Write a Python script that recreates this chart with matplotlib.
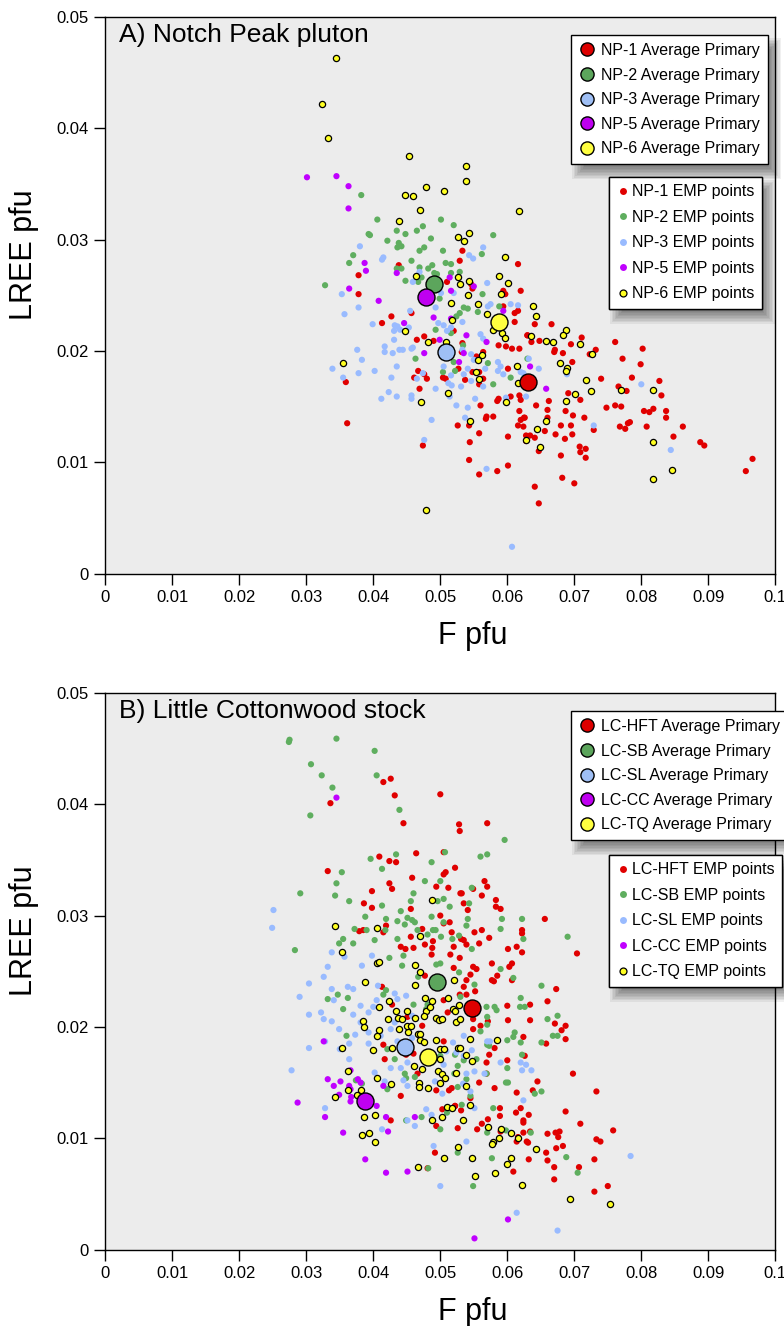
import numpy as np
import matplotlib
matplotlib.use("Agg")
import matplotlib.pyplot as plt
from matplotlib.lines import Line2D
from matplotlib.patches import Rectangle
from matplotlib.transforms import IdentityTransform

plt.rcParams['font.family'] = ['Liberation Sans', 'DejaVu Sans']

# ---------------- DATA (F pfu, LREE pfu) ----------------
# Panel A: Notch Peak pluton
np1_pts = [(0.0533,0.0290),(0.0529,0.0281),(0.0616,0.0278),(0.0438,0.0277),(0.0378,0.0268),(0.0510,0.0262),(0.0548,0.0256),(0.0546,0.0260),(0.0378,0.0251),(0.0594,0.0254),(0.0597,0.0251),(0.0620,0.0254),
 (0.0427,0.0231),(0.0413,0.0225),(0.0457,0.0234),(0.0465,0.0210),(0.0476,0.0213),(0.0490,0.0209),(0.0520,0.0218),(0.0533,0.0207),(0.0532,0.0199),(0.0564,0.0199),(0.0554,0.0195),(0.0587,0.0205),(0.0598,0.0204),(0.0607,0.0202),(0.0618,0.0202),(0.0630,0.0214),(0.0611,0.0234),(0.0616,0.0236),(0.0611,0.0226),(0.0594,0.0240),(0.0467,0.0182),(0.0461,0.0176),(0.0480,0.0175),(0.0476,0.0179),(0.0504,0.0176),(0.0508,0.0175),(0.0527,0.0184),(0.0537,0.0174),(0.0548,0.0181),(0.0558,0.0181),(0.0558,0.0170),(0.0564,0.0175),(0.0601,0.0184),(0.0469,0.0166),(0.0359,0.0172),(0.0361,0.0135),(0.0474,0.0115),(0.0526,0.0133),(0.0543,0.0133),(0.0544,0.0118),(0.0558,0.0126),(0.0543,0.0102),(0.0558,0.0089),(0.0585,0.0092),(0.0601,0.0097),(0.0601,0.0123),(0.0560,0.0151),(0.0569,0.0141),(0.0568,0.0139),(0.0579,0.0141),(0.0585,0.0155),(0.0587,0.0157),(0.0605,0.0159),(0.0618,0.0160),(0.0620,0.0156),(0.0618,0.0146),(0.0620,0.0138),(0.0625,0.0140),(0.0616,0.0133),(0.0624,0.0132),(0.0628,0.0124),(0.0628,0.0119),
 (0.0641,0.0224),(0.0666,0.0224),(0.0630,0.0214),(0.0636,0.0208),(0.0648,0.0209),(0.0670,0.0199),(0.0671,0.0201),(0.0683,0.0198),(0.0695,0.0206),(0.0711,0.0212),(0.0697,0.0190),(0.0723,0.0197),(0.0732,0.0201),(0.0761,0.0208),(0.0802,0.0202),(0.0772,0.0193),(0.0799,0.0188),(0.0740,0.0175),(0.0786,0.0176),(0.0766,0.0168),(0.0778,0.0164),(0.0827,0.0173),(0.0830,0.0160),(0.0691,0.0162),(0.0709,0.0156),(0.0662,0.0155),(0.0643,0.0151),(0.0660,0.0147),(0.0687,0.0146),(0.0698,0.0142),(0.0715,0.0140),(0.0748,0.0149),(0.0761,0.0151),(0.0770,0.0150),(0.0804,0.0146),(0.0812,0.0145),(0.0818,0.0148),(0.0837,0.0146),(0.0837,0.0140),(0.0780,0.0135),(0.0783,0.0136),(0.0768,0.0132),(0.0776,0.0130),(0.0808,0.0132),(0.0862,0.0132),(0.0848,0.0123),(0.0888,0.0118),(0.0894,0.0115),(0.0966,0.0103),(0.0956,0.0092),(0.0729,0.0129),(0.0680,0.0133),(0.0695,0.0133),(0.0656,0.0128),(0.0672,0.0125),(0.0686,0.0121),(0.0697,0.0125),(0.0641,0.0122),(0.0634,0.0124),(0.0647,0.0110),(0.0680,0.0106),(0.0708,0.0114),(0.0709,0.0109),(0.0717,0.0112),(0.0717,0.0104),(0.0682,0.0086),(0.0700,0.0081),(0.0641,0.0078),(0.0647,0.0063),(0.0626,0.0140),(0.0660,0.0140)]

np2_pts = [(0.0382,0.0340),(0.0406,0.0318),(0.0393,0.0305),(0.0395,0.0304),(0.0421,0.0299),(0.0435,0.0308),(0.0448,0.0305),(0.0438,0.0297),(0.0436,0.0293),(0.0442,0.0294),(0.0465,0.0308),(0.0474,0.0312),(0.0501,0.0318),(0.0520,0.0313),(0.0486,0.0301),(0.0476,0.0293),(0.0469,0.0290),(0.0504,0.0290),(0.0579,0.0304),(0.0562,0.0287),(0.0370,0.0286),(0.0364,0.0279),(0.0457,0.0281),(0.0508,0.0279),(0.0516,0.0278),(0.0488,0.0277),(0.0482,0.0274),(0.0469,0.0275),(0.0442,0.0274),(0.0435,0.0274),(0.0491,0.0270),(0.0495,0.0269),(0.0529,0.0271),(0.0516,0.0270),(0.0448,0.0263),(0.0467,0.0262),(0.0472,0.0266),(0.0328,0.0259),(0.0563,0.0251),(0.0499,0.0247),
 (0.0535,0.0239),(0.0541,0.0238),(0.0529,0.0234),(0.0524,0.0231),(0.0556,0.0235),(0.0588,0.0240),(0.0493,0.0219),(0.0516,0.0216),(0.0534,0.0205),(0.0463,0.0193),(0.0520,0.0190),(0.0571,0.0189),(0.0522,0.0182),(0.0504,0.0181),(0.0605,0.0176),(0.0579,0.0170),(0.0630,0.0193)]

np3_pts = [(0.0380,0.0294),(0.0415,0.0284),(0.0413,0.0282),(0.0469,0.0271),(0.0459,0.0262),(0.0564,0.0293),(0.0543,0.0286),(0.0549,0.0283),(0.0570,0.0261),(0.0353,0.0251),(0.0501,0.0252),(0.0520,0.0252),
 (0.0378,0.0239),(0.0357,0.0233),(0.0399,0.0224),(0.0432,0.0223),(0.0436,0.0222),(0.0431,0.0218),(0.0440,0.0219),(0.0453,0.0221),(0.0455,0.0236),(0.0493,0.0239),(0.0497,0.0225),(0.0505,0.0223),(0.0510,0.0218),(0.0516,0.0221),(0.0533,0.0226),(0.0560,0.0215),(0.0564,0.0211),(0.0571,0.0240),(0.0575,0.0242),(0.0605,0.0242),(0.0616,0.0241),(0.0431,0.0210),(0.0417,0.0204),(0.0417,0.0199),(0.0429,0.0198),(0.0439,0.0201),(0.0444,0.0201),(0.0457,0.0202),(0.0459,0.0203),(0.0376,0.0201),(0.0383,0.0192),(0.0339,0.0184),(0.0355,0.0176),(0.0378,0.0180),(0.0402,0.0182),(0.0427,0.0176),(0.0435,0.0186),(0.0465,0.0175),(0.0474,0.0180),(0.0493,0.0166),(0.0423,0.0163),(0.0412,0.0157),(0.0435,0.0159),(0.0457,0.0160),(0.0457,0.0157),(0.0487,0.0138),(0.0476,0.0120),(0.0512,0.0171),(0.0517,0.0169),(0.0531,0.0168),(0.0514,0.0159),(0.0524,0.0151),(0.0541,0.0149),(0.0537,0.0140),(0.0552,0.0157),(0.0546,0.0173),(0.0535,0.0179),(0.0541,0.0184),(0.0546,0.0197),(0.0564,0.0168),(0.0567,0.0184),(0.0586,0.0190),(0.0586,0.0182),(0.0594,0.0179),(0.0590,0.0186),(0.0598,0.0158),(0.0624,0.0180),(0.0628,0.0159),(0.0632,0.0193),(0.0569,0.0094),(0.0607,0.0024),(0.0518,0.0199),(0.0533,0.0201),(0.0505,0.0186),(0.0516,0.0178),(0.0550,0.0192),
 (0.0647,0.0184),(0.0620,0.0181),(0.0689,0.0179),(0.0800,0.0170),(0.0729,0.0133),(0.0844,0.0111)]

np5_pts = [(0.0301,0.0356),(0.0345,0.0357),(0.0363,0.0348),(0.0363,0.0328),(0.0387,0.0279),(0.0389,0.0272),(0.0435,0.0270),(0.0514,0.0266),(0.0516,0.0254),(0.0550,0.0258),(0.0364,0.0256),(0.0408,0.0245),(0.0446,0.0225),(0.0490,0.0230),(0.0499,0.0210),(0.0516,0.0229),(0.0539,0.0214),(0.0569,0.0208),(0.0476,0.0198),(0.0535,0.0198),(0.0528,0.0190),(0.0594,0.0236),(0.0634,0.0186),(0.0658,0.0166)]

np6_pts = [(0.0345,0.0463),(0.0323,0.0422),(0.0332,0.0391),(0.0453,0.0375),(0.0539,0.0366),(0.0539,0.0353),(0.0478,0.0347),(0.0448,0.0340),(0.0459,0.0339),(0.0506,0.0344),(0.0469,0.0327),(0.0618,0.0326),(0.0438,0.0317),(0.0543,0.0306),(0.0526,0.0302),(0.0535,0.0299),(0.0597,0.0284),(0.0463,0.0267),(0.0527,0.0266),(0.0588,0.0267),(0.0543,0.0263),(0.0601,0.0261),(0.0530,0.0260),(0.0590,0.0251),(0.0541,0.0250),
 (0.0516,0.0243),(0.0556,0.0242),(0.0518,0.0228),(0.0569,0.0233),(0.0448,0.0218),(0.0579,0.0219),(0.0592,0.0216),(0.0597,0.0212),(0.0482,0.0208),(0.0509,0.0208),(0.0562,0.0196),(0.0556,0.0192),(0.0554,0.0181),(0.0558,0.0175),(0.0615,0.0186),(0.0616,0.0171),(0.0355,0.0189),(0.0512,0.0162),(0.0471,0.0154),(0.0598,0.0154),(0.0545,0.0137),(0.0628,0.0120),(0.0478,0.0057),
 (0.0638,0.0240),(0.0643,0.0231),(0.0687,0.0219),(0.0683,0.0214),(0.0636,0.0213),(0.0658,0.0209),(0.0668,0.0208),(0.0708,0.0206),(0.0726,0.0197),(0.0678,0.0189),(0.0689,0.0185),(0.0687,0.0182),(0.0717,0.0174),(0.0725,0.0164),(0.0701,0.0161),(0.0687,0.0155),(0.0770,0.0165),(0.0818,0.0165),(0.0658,0.0137),(0.0645,0.0130),(0.0649,0.0114),(0.0818,0.0118),(0.0846,0.0093),(0.0818,0.0085)]

np_avg_f = [0.0631, 0.0491, 0.0509, 0.0479, 0.0588]
np_avg_lree = [0.0172, 0.0260, 0.0199, 0.0248, 0.0226]
np_names = ['NP-1', 'NP-2', 'NP-3', 'NP-5', 'NP-6']

# Panel B: Little Cottonwood stock
lc_hft_pts = [(0.0415,0.0420),(0.0426,0.0423),(0.0432,0.0408),(0.0500,0.0409),(0.0336,0.0401),(0.0445,0.0383),(0.0528,0.0382),(0.0529,0.0376),(0.0409,0.0353),(0.0424,0.0349),(0.0434,0.0348),(0.0464,0.0356),(0.0505,0.0357),(0.0522,0.0343),(0.0505,0.0337),(0.0508,0.0339),(0.0458,0.0334),(0.0332,0.0340),(0.0424,0.0329),(0.0428,0.0324),(0.0494,0.0326),(0.0512,0.0325),(0.0398,0.0322),(0.0530,0.0320),(0.0386,0.0311),(0.0398,0.0307),(0.0456,0.0306),(0.0500,0.0300),(0.0514,0.0294),(0.0505,0.0293),(0.0419,0.0291),(0.0415,0.0285),(0.0379,0.0286),(0.0385,0.0287),(0.0473,0.0288),(0.0456,0.0281),(0.0477,0.0274),(0.0489,0.0277),(0.0517,0.0285),(0.0520,0.0272),(0.0441,0.0272),(0.0448,0.0270),(0.0460,0.0271),(0.0488,0.0271),
 (0.0570,0.0383),(0.0566,0.0331),(0.0570,0.0326),(0.0549,0.0324),(0.0532,0.0320),(0.0562,0.0318),(0.0583,0.0314),(0.0583,0.0308),(0.0590,0.0306),(0.0535,0.0311),(0.0541,0.0305),(0.0656,0.0297),(0.0622,0.0287),(0.0622,0.0284),(0.0562,0.0287),(0.0551,0.0285),(0.0573,0.0280),(0.0531,0.0279),(0.0535,0.0278),(0.0539,0.0274),(0.0558,0.0275),(0.0614,0.0272),(0.0601,0.0270),(0.0704,0.0266),
 (0.0477,0.0246),(0.0520,0.0253),(0.0487,0.0265),(0.0515,0.0265),(0.0413,0.0236),(0.0428,0.0220),(0.0451,0.0209),(0.0473,0.0201),(0.0505,0.0224),(0.0511,0.0213),(0.0415,0.0184),(0.0417,0.0171),(0.0460,0.0176),(0.0449,0.0175),(0.0505,0.0187),(0.0466,0.0158),(0.0441,0.0138),(0.0494,0.0143),(0.0513,0.0143),(0.0517,0.0145),(0.0522,0.0129),(0.0503,0.0126),(0.0494,0.0111),(0.0492,0.0087),(0.0426,0.0116),(0.0481,0.0073),(0.0526,0.0109),
 (0.0622,0.0267),(0.0529,0.0262),(0.0577,0.0257),(0.0607,0.0257),(0.0603,0.0254),(0.0549,0.0254),(0.0554,0.0252),(0.0545,0.0247),(0.0585,0.0246),(0.0577,0.0242),(0.0580,0.0241),(0.0607,0.0242),(0.0539,0.0242),(0.0535,0.0236),(0.0552,0.0232),(0.0673,0.0234),(0.0529,0.0229),(0.0539,0.0229),(0.0660,0.0223),(0.0634,0.0220),(0.0600,0.0219),(0.0549,0.0207),(0.0571,0.0205),(0.0601,0.0206),(0.0634,0.0206),(0.0671,0.0203),(0.0687,0.0201),(0.0681,0.0197),(0.0687,0.0189),(0.0658,0.0185),(0.0624,0.0191),(0.0560,0.0201),(0.0549,0.0198),(0.0581,0.0181),(0.0573,0.0175),(0.0626,0.0174),(0.0600,0.0170),(0.0569,0.0168),(0.0698,0.0158),(0.0569,0.0158),(0.0558,0.0150),(0.0581,0.0145),(0.0645,0.0151),(0.0638,0.0143),(0.0614,0.0141),(0.0733,0.0142),(0.0545,0.0136),(0.0522,0.0129),(0.0531,0.0125),(0.0589,0.0127),(0.0589,0.0120),(0.0620,0.0127),(0.0613,0.0123),(0.0632,0.0121),(0.0624,0.0116),(0.0624,0.0114),(0.0571,0.0117),(0.0562,0.0113),(0.0687,0.0124),(0.0709,0.0113),(0.0555,0.0108),(0.0590,0.0106),(0.0634,0.0106),(0.0624,0.0105),(0.0660,0.0104),(0.0672,0.0105),(0.0678,0.0106),(0.0676,0.0101),(0.0616,0.0101),(0.0614,0.0097),(0.0629,0.0097),(0.0631,0.0096),(0.0683,0.0093),(0.0673,0.0091),(0.0658,0.0087),(0.0733,0.0099),(0.0739,0.0097),(0.0758,0.0107),(0.0632,0.0081),(0.0660,0.0080),(0.0730,0.0081),(0.0609,0.0070),(0.0670,0.0074),(0.0707,0.0074),(0.0670,0.0063),(0.0750,0.0057),(0.0730,0.0052)]

lc_sb_pts = [(0.0275,0.0458),(0.0274,0.0456),(0.0345,0.0459),(0.0402,0.0448),(0.0307,0.0436),(0.0323,0.0426),(0.0405,0.0426),(0.0339,0.0415),(0.0439,0.0395),(0.0306,0.0390),(0.0396,0.0351),(0.0434,0.0355),(0.0413,0.0342),(0.0487,0.0348),(0.0507,0.0357),(0.0353,0.0339),(0.0345,0.0329),(0.0291,0.0320),(0.0343,0.0318),(0.0364,0.0313),(0.0413,0.0309),(0.0477,0.0331),(0.0500,0.0331),(0.0460,0.0320),(0.0456,0.0313),(0.0505,0.0315),(0.0496,0.0313),(0.0514,0.0308),(0.0441,0.0304),(0.0388,0.0299),(0.0419,0.0297),(0.0436,0.0295),(0.0447,0.0292),(0.0451,0.0298),(0.0458,0.0296),(0.0462,0.0294),(0.0487,0.0299),(0.0505,0.0294),(0.0372,0.0288),(0.0390,0.0287),(0.0418,0.0287),(0.0466,0.0287),(0.0489,0.0287),(0.0493,0.0287),(0.0481,0.0283),(0.0501,0.0281),(0.0518,0.0279),(0.0528,0.0282),(0.0355,0.0279),(0.0349,0.0275),(0.0370,0.0275),(0.0402,0.0278),(0.0436,0.0279),(0.0283,0.0269),
 (0.0596,0.0368),(0.0560,0.0353),(0.0570,0.0355),(0.0547,0.0325),(0.0543,0.0311),(0.0541,0.0297),(0.0592,0.0297),(0.0622,0.0297),(0.0539,0.0291),(0.0590,0.0288),(0.0624,0.0279),(0.0690,0.0281),(0.0547,0.0270),
 (0.0424,0.0262),(0.0445,0.0264),(0.0443,0.0255),(0.0467,0.0245),(0.0494,0.0256),(0.0500,0.0257),(0.0528,0.0249),(0.0347,0.0229),(0.0332,0.0225),(0.0362,0.0226),(0.0415,0.0229),(0.0419,0.0233),(0.0355,0.0216),(0.0460,0.0220),(0.0479,0.0216),(0.0481,0.0220),(0.0530,0.0227),(0.0360,0.0192),(0.0421,0.0180),(0.0432,0.0171),(0.0447,0.0158),(0.0449,0.0154),(0.0462,0.0155),(0.0374,0.0152),(0.0383,0.0149),(0.0421,0.0144),(0.0526,0.0165),(0.0521,0.0158),(0.0526,0.0146),(0.0472,0.0119),(0.0449,0.0116),(0.0500,0.0108),(0.0510,0.0123),(0.0526,0.0087),(0.0482,0.0073),(0.0522,0.0175),(0.0500,0.0174),
 (0.0651,0.0237),(0.0590,0.0252),(0.0609,0.0244),(0.0551,0.0238),(0.0620,0.0226),(0.0619,0.0218),(0.0626,0.0218),(0.0581,0.0218),(0.0584,0.0215),(0.0569,0.0218),(0.0675,0.0210),(0.0660,0.0207),(0.0570,0.0209),(0.0570,0.0202),(0.0560,0.0196),(0.0611,0.0195),(0.0609,0.0191),(0.0600,0.0188),(0.0620,0.0186),(0.0651,0.0186),(0.0668,0.0192),(0.0675,0.0192),(0.0570,0.0184),(0.0573,0.0183),(0.0622,0.0175),(0.0554,0.0171),(0.0535,0.0170),(0.0600,0.0163),(0.0569,0.0158),(0.0539,0.0153),(0.0598,0.0150),(0.0601,0.0150),(0.0641,0.0140),(0.0651,0.0142),(0.0532,0.0130),(0.0579,0.0127),(0.0570,0.0105),(0.0635,0.0105),(0.0598,0.0107),(0.0577,0.0082),(0.0688,0.0083),(0.0705,0.0069),(0.0549,0.0057),(0.0545,0.0138)]

lc_sl_pts = [(0.0251,0.0305),(0.0249,0.0289),
 (0.0338,0.0267),(0.0357,0.0263),(0.0398,0.0264),(0.0332,0.0254),(0.0383,0.0255),(0.0326,0.0245),(0.0304,0.0239),(0.0290,0.0227),(0.0338,0.0234),(0.0341,0.0224),(0.0370,0.0234),(0.0362,0.0236),(0.0407,0.0237),(0.0432,0.0230),(0.0436,0.0225),(0.0449,0.0228),(0.0304,0.0211),(0.0322,0.0213),(0.0326,0.0207),(0.0338,0.0205),(0.0349,0.0198),(0.0370,0.0211),(0.0381,0.0219),(0.0393,0.0213),(0.0400,0.0218),(0.0405,0.0224),(0.0381,0.0204),(0.0393,0.0195),(0.0373,0.0193),(0.0364,0.0185),(0.0350,0.0180),(0.0328,0.0187),(0.0304,0.0181),(0.0393,0.0185),(0.0364,0.0171),(0.0278,0.0161),(0.0411,0.0192),(0.0426,0.0198),(0.0432,0.0204),(0.0458,0.0210),(0.0458,0.0190),(0.0436,0.0187),(0.0426,0.0163),(0.0441,0.0163),(0.0451,0.0168),(0.0402,0.0159),(0.0417,0.0151),(0.0445,0.0152),(0.0451,0.0147),(0.0328,0.0127),(0.0479,0.0126),(0.0451,0.0116),(0.0462,0.0111),(0.0413,0.0108),(0.0490,0.0093),(0.0500,0.0057),(0.0503,0.0140),(0.0492,0.0151),(0.0487,0.0121),(0.0505,0.0166),(0.0519,0.0186),(0.0509,0.0178),
 (0.0535,0.0192),(0.0570,0.0187),(0.0574,0.0187),(0.0547,0.0179),(0.0535,0.0174),(0.0524,0.0177),(0.0590,0.0168),(0.0620,0.0168),(0.0628,0.0166),(0.0622,0.0161),(0.0636,0.0161),(0.0551,0.0160),(0.0539,0.0158),(0.0566,0.0158),(0.0534,0.0149),(0.0545,0.0142),(0.0551,0.0127),(0.0624,0.0134),(0.0605,0.0105),(0.0539,0.0097),(0.0784,0.0084),(0.0614,0.0033),(0.0675,0.0017)]

lc_cc_pts = [(0.0345,0.0406),(0.0326,0.0187),(0.0366,0.0161),(0.0332,0.0153),(0.0351,0.0151),(0.0341,0.0147),(0.0364,0.0147),(0.0366,0.0144),(0.0349,0.0139),(0.0367,0.0137),(0.0366,0.0133),(0.0377,0.0153),(0.0381,0.0150),(0.0415,0.0147),(0.0405,0.0129),(0.0287,0.0132),(0.0328,0.0119),(0.0355,0.0105),(0.0419,0.0119),(0.0422,0.0106),(0.0462,0.0119),(0.0388,0.0081),(0.0419,0.0069),(0.0451,0.0070),(0.0601,0.0027),(0.0551,0.0010)]

lc_tq_pts = [(0.0487,0.0314),(0.0343,0.0291),(0.0406,0.0289),(0.0470,0.0282),
 (0.0353,0.0267),(0.0405,0.0257),(0.0409,0.0258),(0.0462,0.0256),(0.0470,0.0249),(0.0462,0.0238),(0.0388,0.0240),(0.0520,0.0242),(0.0424,0.0223),(0.0477,0.0226),(0.0488,0.0223),(0.0511,0.0226),(0.0528,0.0220),(0.0409,0.0218),(0.0434,0.0214),(0.0451,0.0214),(0.0479,0.0214),(0.0484,0.0218),(0.0519,0.0216),(0.0422,0.0207),(0.0437,0.0208),(0.0443,0.0207),(0.0462,0.0208),(0.0475,0.0210),(0.0494,0.0208),(0.0498,0.0206),(0.0502,0.0207),(0.0524,0.0204),(0.0385,0.0205),(0.0386,0.0200),(0.0439,0.0198),(0.0452,0.0195),(0.0451,0.0201),(0.0456,0.0201),(0.0409,0.0197),(0.0406,0.0192),(0.0466,0.0194),(0.0470,0.0194),(0.0470,0.0188),(0.0475,0.0186),(0.0494,0.0188),(0.0500,0.0180),(0.0505,0.0180),(0.0500,0.0171),(0.0428,0.0181),(0.0400,0.0179),(0.0353,0.0181),(0.0460,0.0165),(0.0473,0.0162),(0.0496,0.0160),(0.0503,0.0158),(0.0507,0.0154),(0.0524,0.0159),(0.0362,0.0160),(0.0405,0.0154),(0.0426,0.0149),(0.0468,0.0150),(0.0468,0.0146),(0.0482,0.0145),(0.0500,0.0150),(0.0362,0.0143),(0.0381,0.0143),(0.0376,0.0139),(0.0343,0.0137),(0.0403,0.0121),(0.0386,0.0119),(0.0487,0.0116),(0.0503,0.0119),(0.0510,0.0128),(0.0517,0.0127),(0.0383,0.0103),(0.0393,0.0105),(0.0403,0.0097),(0.0505,0.0082),(0.0526,0.0092),(0.0466,0.0074),
 (0.0522,0.0214),(0.0530,0.0207),(0.0545,0.0189),(0.0584,0.0188),(0.0526,0.0181),(0.0530,0.0181),(0.0539,0.0175),(0.0547,0.0169),(0.0539,0.0147),(0.0545,0.0130),(0.0534,0.0116),(0.0571,0.0110),(0.0590,0.0108),(0.0605,0.0105),(0.0616,0.0100),(0.0588,0.0100),(0.0579,0.0097),(0.0577,0.0095),(0.0643,0.0090),(0.0547,0.0082),(0.0605,0.0082),(0.0599,0.0077),(0.0581,0.0069),(0.0552,0.0066),(0.0622,0.0058),(0.0693,0.0045),(0.0754,0.0041)]

lc_avg_f = [0.0547, 0.0495, 0.0447, 0.0388, 0.0482]
lc_avg_lree = [0.0217, 0.0240, 0.0182, 0.0133, 0.0173]
lc_names = ['LC-HFT', 'LC-SB', 'LC-SL', 'LC-CC', 'LC-TQ']

x_ticks = [0, 0.01, 0.02, 0.03, 0.04, 0.05, 0.06, 0.07, 0.08, 0.09, 0.1]
x_ticklabels = ['0', '0.01', '0.02', '0.03', '0.04', '0.05', '0.06', '0.07', '0.08', '0.09', '0.1']
y_ticks = [0, 0.01, 0.02, 0.03, 0.04, 0.05]
y_ticklabels = ['0', '0.01', '0.02', '0.03', '0.04', '0.05']

# ---------------- STYLE ----------------
W, H = 784, 1326
PT_COLORS = ['#e00000', '#5fae5f', '#99bbff', '#c000ff', '#ffff22']
AVG_COLORS = ['#dd0000', '#5ca55c', '#9fbff5', '#bf00f0', '#ffff40']
BG = '#ececec'

fig = plt.figure(figsize=(W / 100, H / 100), dpi=100)

def px_axes(left, top, right, bottom):
    return fig.add_axes([left / W, 1 - bottom / H, (right - left) / W, (bottom - top) / H])

def draw_panel(ax, series, avg_f, avg_lree, names, title, leg1_xy, leg2_xy):
    ax.set_facecolor(BG)
    for i, pts in enumerate(series):
        f = [p[0] for p in pts]
        l = [p[1] for p in pts]
        if i == 4:
            ax.scatter(f, l, s=20, c=PT_COLORS[i], edgecolors='black', linewidths=0.9, zorder=2)
        else:
            ax.scatter(f, l, s=20, c=PT_COLORS[i], edgecolors='none', zorder=2)
    for i in range(len(avg_f)):
        ax.scatter([avg_f[i]], [avg_lree[i]], s=150, c=AVG_COLORS[i], edgecolors='black',
                   linewidths=1.0, zorder=3)
    ax.set_xlim(0, 0.1)
    ax.set_ylim(0, 0.05)
    ax.set_xticks(x_ticks)
    ax.set_xticklabels(x_ticklabels)
    ax.set_yticks(y_ticks)
    ax.set_yticklabels(y_ticklabels)
    ax.tick_params(direction='out', length=8, width=1, labelsize=12, pad=4, colors='black')
    for s in ax.spines.values():
        s.set_linewidth(1.0)
        s.set_color('black')
    ax.set_xlabel('F pfu', fontsize=22)
    ax.xaxis.set_label_coords(0.548, -0.085)
    ax.set_ylabel('LREE pfu', fontsize=22)
    ax.yaxis.set_label_coords(-0.099, 0.572)
    ax.text(0.021, 0.967, title, transform=ax.transAxes, fontsize=19, va='center', ha='left')

    h1 = [Line2D([], [], marker='o', ls='none', markersize=9.5, markerfacecolor=AVG_COLORS[i],
                 markeredgecolor='black', markeredgewidth=1.0) for i in range(5)]
    lab1 = [n + ' Average Primary' for n in names]
    leg1 = ax.legend(h1, lab1, loc='upper left', bbox_to_anchor=(leg1_xy[0] / W, 1 - leg1_xy[1] / H),
                     bbox_transform=fig.transFigure, frameon=True, fancybox=False, edgecolor='black',
                     framealpha=1, fontsize=11.5, borderpad=0.5, labelspacing=0.6,
                     handletextpad=0.4, handlelength=1.0, borderaxespad=0)
    leg1.get_frame().set_linewidth(1.0)
    leg1.set_zorder(6)
    ax.add_artist(leg1)
    h2 = []
    for i in range(5):
        if i == 4:
            h2.append(Line2D([], [], marker='o', ls='none', markersize=5, markerfacecolor=PT_COLORS[i],
                             markeredgecolor='black', markeredgewidth=0.9))
        else:
            h2.append(Line2D([], [], marker='o', ls='none', markersize=5, markerfacecolor=PT_COLORS[i],
                             markeredgecolor='none'))
    lab2 = [n + ' EMP points' for n in names]
    leg2 = ax.legend(h2, lab2, loc='upper left', bbox_to_anchor=(leg2_xy[0] / W, 1 - leg2_xy[1] / H),
                     bbox_transform=fig.transFigure, frameon=True, fancybox=False, edgecolor='black',
                     framealpha=1, fontsize=11.5, borderpad=0.45, labelspacing=0.66,
                     handletextpad=0.2, handlelength=0.8, borderaxespad=0)
    leg2.get_frame().set_linewidth(1.0)
    leg2.set_zorder(6)
    ax.add_artist(leg2)
    return [leg1, leg2]

axA = px_axes(105.3, 17, 775.3, 573.5)
axB = px_axes(105.3, 693, 775.3, 1249.5)
legsA = draw_panel(axA, [np1_pts, np2_pts, np3_pts, np5_pts, np6_pts], np_avg_f, np_avg_lree,
                   np_names, 'A) Notch Peak pluton', (571, 35), (609, 177))
legsB = draw_panel(axB, [lc_hft_pts, lc_sb_pts, lc_sl_pts, lc_cc_pts, lc_tq_pts], lc_avg_f, lc_avg_lree,
                   lc_names, 'B) Little Cottonwood stock', (571, 711), (609, 855))

# soft drop shadows behind the legends
fig.canvas.draw()
renderer = fig.canvas.get_renderer()
for ax, legs in ((axA, legsA), (axB, legsB)):
    for leg in legs:
        bb = leg.get_frame().get_window_extent(renderer)
        ox, oy = 7, -9
        for k in range(9):
            pad = 6 - k * 1.5
            r = Rectangle((bb.x0 + ox - pad, bb.y0 + oy - pad), bb.width + 2 * pad, bb.height + 2 * pad,
                          transform=IdentityTransform(), facecolor='black', edgecolor='none',
                          alpha=0.06, zorder=5, clip_on=False)
            ax.add_artist(r)

fig.savefig('out.png', dpi=100, facecolor='white')
